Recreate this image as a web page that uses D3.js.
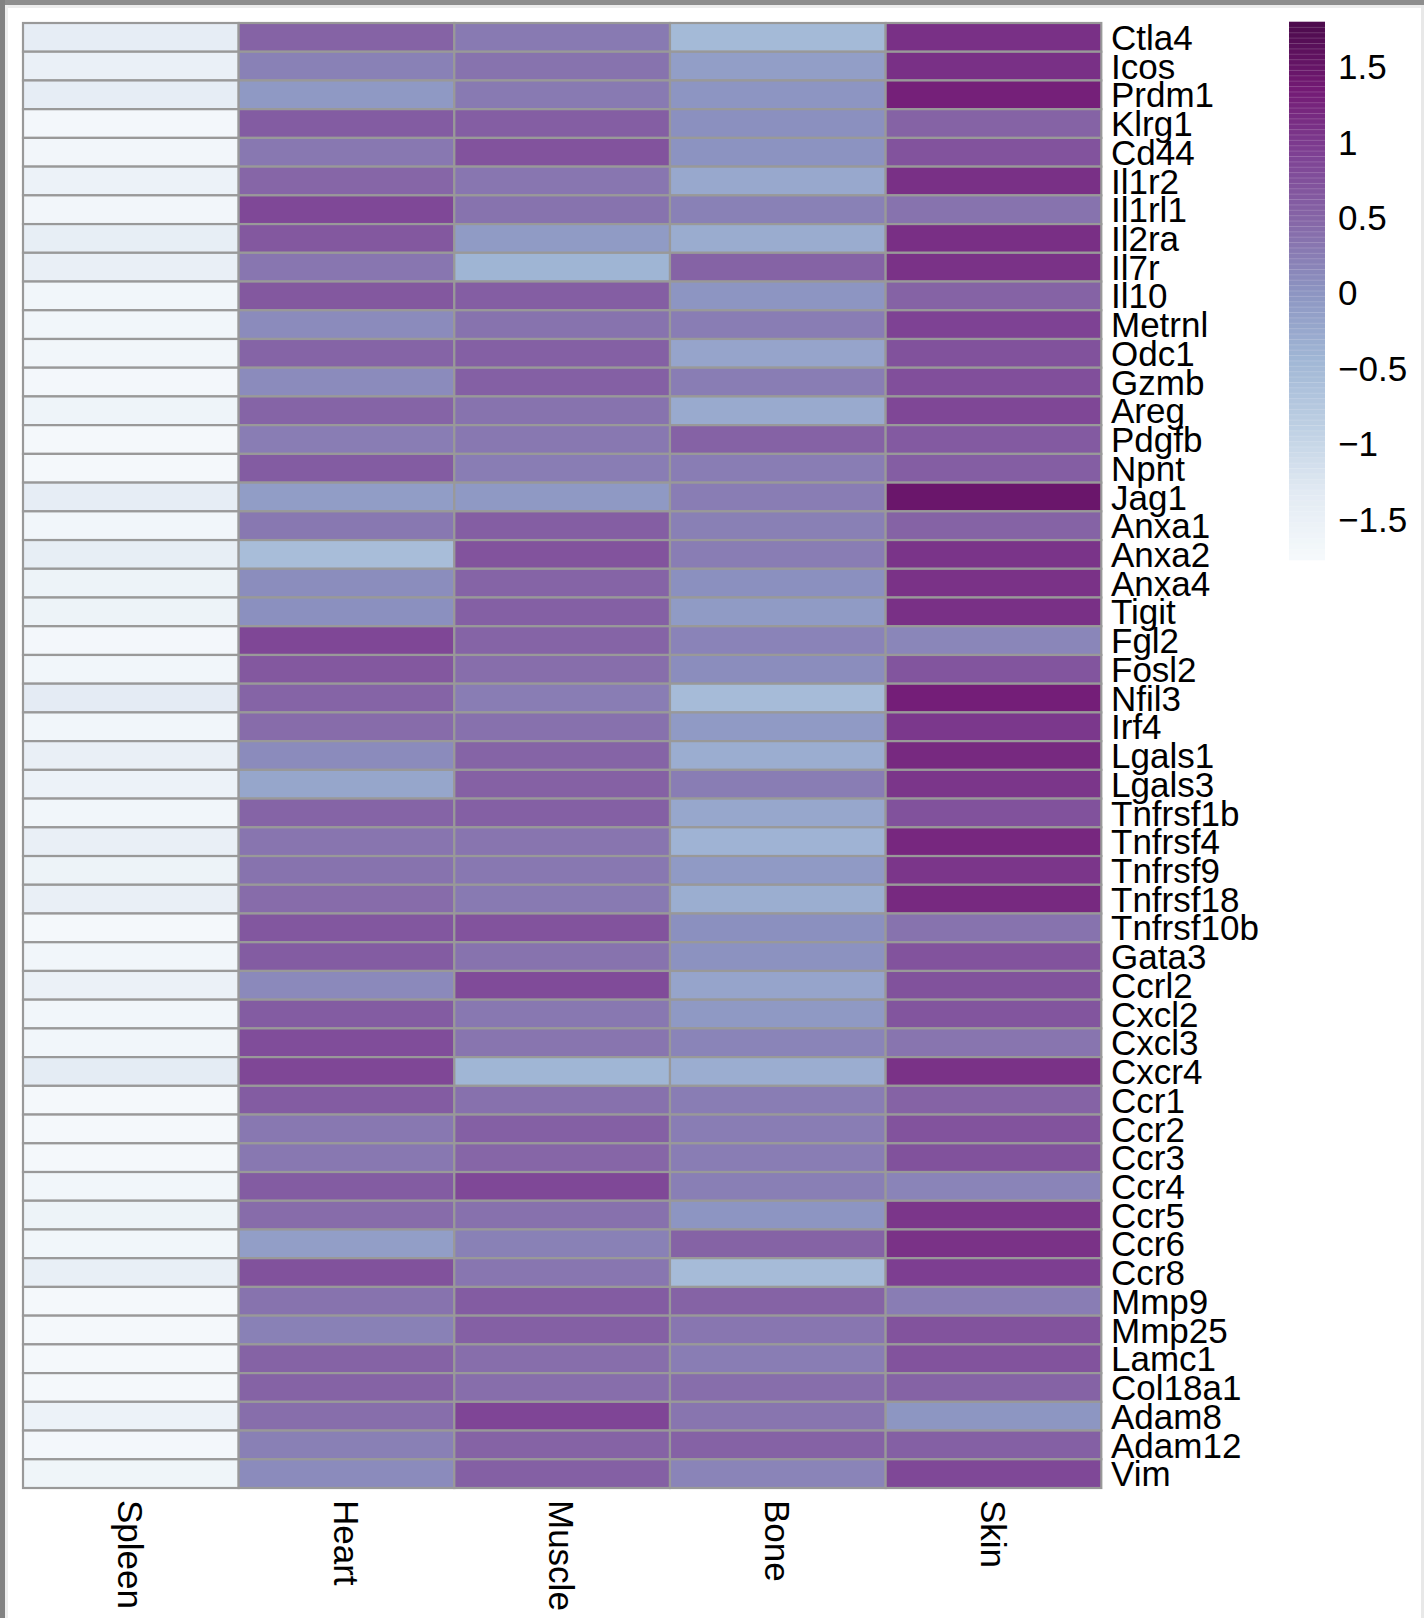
<!DOCTYPE html>
<html>
<head>
<meta charset="utf-8">
<script src="https://cdn.jsdelivr.net/npm/d3@7"></script>
<style>
  html, body { margin: 0; padding: 0; background: #ffffff; }
  svg { display: block; }
  text { font-family: "Liberation Sans", Arial, Helvetica, sans-serif; fill: #000; }
</style>
</head>
<body>
<script>
// ---------- DATA ----------
const genes = ["Ctla4","Icos","Prdm1","Klrg1","Cd44","Il1r2","Il1rl1","Il2ra","Il7r","Il10",
  "Metrnl","Odc1","Gzmb","Areg","Pdgfb","Npnt","Jag1","Anxa1","Anxa2","Anxa4",
  "Tigit","Fgl2","Fosl2","Nfil3","Irf4","Lgals1","Lgals3","Tnfrsf1b","Tnfrsf4","Tnfrsf9",
  "Tnfrsf18","Tnfrsf10b","Gata3","Ccrl2","Cxcl2","Cxcl3","Cxcr4","Ccr1","Ccr2","Ccr3",
  "Ccr4","Ccr5","Ccr6","Ccr8","Mmp9","Mmp25","Lamc1","Col18a1","Adam8","Adam12","Vim"];
const tissues = ["Spleen","Heart","Muscle","Bone","Skin"];

const spleen = [-1.41,-1.50,-1.42,-1.70,-1.67,-1.55,-1.67,-1.44,-1.47,-1.66,
  -1.66,-1.66,-1.70,-1.60,-1.72,-1.72,-1.42,-1.66,-1.44,-1.58,
  -1.58,-1.70,-1.66,-1.36,-1.66,-1.47,-1.55,-1.66,-1.47,-1.58,
  -1.47,-1.72,-1.66,-1.53,-1.66,-1.66,-1.38,-1.72,-1.72,-1.72,
  -1.66,-1.58,-1.66,-1.45,-1.72,-1.72,-1.72,-1.72,-1.55,-1.70,-1.62];
const heart = [0.52,0.20,-0.05,0.60,0.30,0.48,0.83,0.65,0.32,0.65,
  0.10,0.50,0.10,0.50,0.25,0.60,-0.10,0.30,-0.55,0.08,
  0.05,0.85,0.65,0.50,0.42,0.10,-0.22,0.50,0.33,0.35,
  0.42,0.66,0.60,0.12,0.60,0.78,0.85,0.60,0.30,0.30,
  0.60,0.42,-0.12,0.72,0.35,0.20,0.52,0.52,0.40,0.22,0.10];
const muscle = [0.28,0.35,0.28,0.58,0.70,0.32,0.35,-0.08,-0.42,0.58,
  0.35,0.55,0.55,0.35,0.30,0.25,-0.05,0.57,0.70,0.50,
  0.55,0.50,0.40,0.25,0.37,0.50,0.54,0.55,0.33,0.30,
  0.28,0.70,0.35,0.80,0.30,0.33,-0.44,0.37,0.55,0.48,
  0.83,0.37,0.20,0.32,0.60,0.55,0.40,0.40,0.87,0.52,0.55];
const bone = [-0.50,-0.12,0.00,0.05,0.02,-0.25,0.20,-0.30,0.52,0.00,
  0.25,-0.20,0.25,-0.28,0.53,0.25,0.25,0.22,0.25,0.05,
  -0.08,0.18,0.08,-0.52,-0.07,-0.32,0.25,-0.24,-0.40,-0.07,
  -0.33,0.05,0.03,-0.20,-0.05,0.17,-0.32,0.25,0.25,0.25,
  0.23,0.00,0.52,-0.52,0.52,0.32,0.25,0.40,0.33,0.53,0.17];
const skin = [1.10,1.10,1.28,0.52,0.70,1.10,0.35,1.11,1.08,0.52,
  0.90,0.72,0.75,0.85,0.62,0.58,1.45,0.52,1.06,1.08,
  1.10,0.15,0.68,1.30,1.02,1.18,1.04,0.72,1.20,1.04,
  1.18,0.35,0.70,0.72,0.68,0.33,1.08,0.52,0.70,0.72,
  0.17,1.04,1.08,0.95,0.25,0.70,0.70,0.52,-0.02,0.55,0.83];

const legendTicks = [1.5, 1, 0.5, 0, -0.5, -1, -1.5];
const colorDomain = [-1.77, 1.795];
// BuPu ramp as it appears in the reference rendering
const palette = ["#f6fafc","#e2eaf3","#bdcfe3","#a0b6d5","#8c94c1","#8668a8","#7e4294","#731a74","#4b0a4b"];

// ---------- SETUP ----------
const W = 1424, H = 1618;
const svg = d3.select("body").append("svg").attr("width", W).attr("height", H);

// page frame
svg.append("rect").attr("x",0).attr("y",0).attr("width",W).attr("height",H).attr("fill","#ffffff");
svg.append("rect").attr("x",5).attr("y",5).attr("width",W-5).attr("height",3).attr("fill","#ededed");
svg.append("rect").attr("x",5).attr("y",5).attr("width",3).attr("height",H-5).attr("fill","#efefef");
svg.append("rect").attr("x",W-3).attr("y",5).attr("width",3).attr("height",H-5).attr("fill","#e8e8e8");
svg.append("rect").attr("x",0).attr("y",0).attr("width",W).attr("height",5).attr("fill","#8e8e8e");
svg.append("rect").attr("x",0).attr("y",0).attr("width",5).attr("height",H).attr("fill","#828282");

const color = d3.scaleLinear()
  .domain(d3.range(palette.length).map(i => colorDomain[0] + i * (colorDomain[1]-colorDomain[0])/(palette.length-1)))
  .range(palette)
  .interpolate(d3.interpolateRgb)
  .clamp(true);

const x = d3.scaleBand().domain(tissues).range([23, 1101.3]);
const y = d3.scaleBand().domain(genes).range([23, 1488]);

const series = [spleen, heart, muscle, bone, skin];
const cells = [];
genes.forEach((g, i) => tissues.forEach((t, j) => cells.push({gene: g, tissue: t, value: series[j][i]})));

svg.append("g").selectAll("rect").data(cells).join("rect")
  .attr("x", d => x(d.tissue))
  .attr("y", d => y(d.gene))
  .attr("width", x.bandwidth())
  .attr("height", y.bandwidth())
  .attr("fill", d => color(d.value))
  .attr("stroke", "#999999")
  .attr("stroke-width", 2.2);

// row labels
svg.append("g").selectAll("text").data(genes).join("text")
  .attr("x", 1111)
  .attr("y", d => y(d) + y.bandwidth()/2)
  .attr("dy", "0.36em")
  .style("font-size", "35px")
  .text(d => d);

// column labels (rotated)
svg.append("g").selectAll("text").data(tissues).join("text")
  .attr("transform", d => `translate(${x(d) + x.bandwidth()/2},1500) rotate(90)`)
  .attr("dy", "0.37em")
  .style("font-size", "35px")
  .text(d => d);

// ---------- LEGEND ----------
const lg = svg.append("g");
const ly = d3.scaleLinear().domain(colorDomain).range([560, 22]);
const nSteps = 100;
const steps = d3.range(nSteps).map(i => colorDomain[0] + (i + 0.5) * (colorDomain[1]-colorDomain[0]) / nSteps);
const stepH = (560 - 22) / nSteps;
lg.selectAll("rect.step").data(steps).join("rect")
  .attr("class","step")
  .attr("x", 1289).attr("width", 36)
  .attr("y", d => ly(d) - stepH/2 - 0.3)
  .attr("height", stepH + 0.6)
  .attr("fill", d => color(d));
// faint seams between steps
lg.selectAll("line.seam").data(d3.range(1, nSteps)).join("line")
  .attr("class","seam")
  .attr("x1", 1289).attr("x2", 1325)
  .attr("y1", i => 560 - i*stepH).attr("y2", i => 560 - i*stepH)
  .attr("stroke", "#ffffff").attr("stroke-opacity", 0.22).attr("stroke-width", 0.8);

lg.selectAll("text").data(legendTicks).join("text")
  .attr("x", 1338)
  .attr("y", d => ly(d))
  .attr("dy", "0.36em")
  .style("font-size", "35px")
  .text(d => d < 0 ? "\u2212" + Math.abs(d) : String(d));
</script>
</body>
</html>
